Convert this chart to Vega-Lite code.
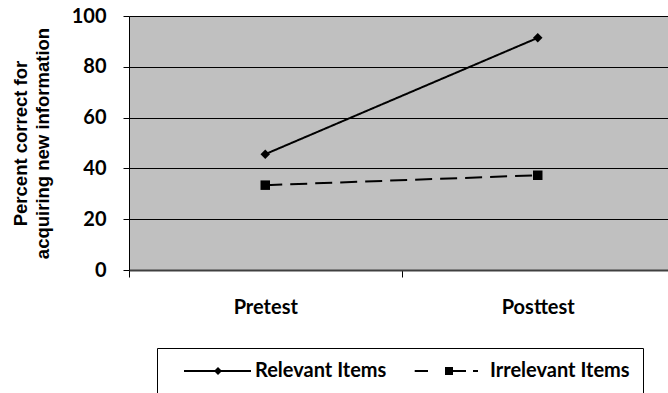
{
  "$schema": "https://vega.github.io/schema/vega-lite/v6.json",
  "autosize": {"type": "none"},
  "width": 545,
  "height": 254,
  "padding": {"left": 129, "top": 16, "right": 0, "bottom": 123},
  "background": "white",
  "data": {
    "values": [
      {"period": "Pretest", "series": "Relevant Items", "value": 45.6},
      {"period": "Posttest", "series": "Relevant Items", "value": 91.4},
      {"period": "Pretest", "series": "Irrelevant Items", "value": 33.4},
      {"period": "Posttest", "series": "Irrelevant Items", "value": 37.3}
    ]
  },
  "encoding": {
    "x": {
      "field": "period",
      "type": "nominal",
      "bandPosition": 0.5,
      "sort": ["Pretest", "Posttest"],
      "scale": {"type": "band", "domain": ["Pretest", "Posttest"], "paddingInner": 0, "paddingOuter": 0},
      "axis": {
        "title": null,
        "labelAngle": 0,
        "tickBand": "extent",
        "tickSize": 7,
        "tickColor": "black",
        "domainColor": "#404040",
        "domainWidth": 2,
        "grid": false,
        "labelFont": "Lato",
        "labelFontSize": 20,
        "labelFontWeight": "bold",
        "labelColor": "black",
        "labelPadding": 20
      }
    },
    "y": {
      "field": "value",
      "type": "quantitative",
      "scale": {"domain": [0, 100], "nice": false},
      "axis": {
        "title": ["Percent correct for", "acquiring new information"],
        "titleFont": "Liberation Sans",
        "titleFontSize": 18.5,
        "titleFontWeight": "bold",
        "titleColor": "black",
        "titleX": -99,
        "titleY": 127,
        "titleLineHeight": 22,
        "values": [0, 20, 40, 60, 80, 100],
        "grid": true,
        "gridColor": "black",
        "gridWidth": 1,
        "gridOpacity": 1,
        "domainColor": "black",
        "domainWidth": 1,
        "tickColor": "black",
        "tickSize": 6,
        "labelFont": "Lato",
        "labelFontSize": 20,
        "labelFontWeight": "bold",
        "labelColor": "black",
        "labelPadding": 17
      }
    }
  },
  "layer": [
    {
      "mark": {"type": "line", "color": "black", "strokeWidth": 2},
      "encoding": {
        "strokeDash": {
          "field": "series",
          "type": "nominal",
          "scale": {"domain": ["Relevant Items", "Irrelevant Items"], "range": [[1, 0], [17, 8]]},
          "legend": null
        }
      }
    },
    {
      "mark": {"type": "point", "filled": true, "color": "black", "opacity": 1, "size": 90},
      "encoding": {
        "shape": {
          "field": "series",
          "type": "nominal",
          "scale": {"domain": ["Relevant Items", "Irrelevant Items"], "range": ["diamond", "square"]},
          "legend": null
        }
      }
    },
    {
      "transform": [{"filter": "datum.value < 0"}],
      "mark": {"type": "point", "filled": true, "color": "black", "opacity": 1, "size": 400},
      "encoding": {
        "shape": {
          "field": "series",
          "type": "nominal",
          "scale": {
            "domain": ["Relevant Items", "Irrelevant Items"],
            "range": [
              "M-3.2,-0.1L3.5,-0.1L3.5,0.1L-3.2,0.1ZM-0.2,0L0.2,-0.4L0.6,0L0.2,0.4Z",
              "M-3.63,-0.1L-2.3,-0.1L-2.3,0.1L-3.63,0.1ZM-0.6,-0.4L0.2,-0.4L0.2,0.4L-0.6,0.4ZM0.2,-0.1L1.5,-0.1L1.5,0.1L0.2,0.1ZM2.2,-0.1L2.7,-0.1L2.7,0.1L2.2,0.1Z"
            ]
          },
          "legend": {
            "title": null,
            "orient": "none",
            "legendX": 28,
            "legendY": 332,
            "direction": "horizontal",
            "strokeColor": "black",
            "padding": 13,
            "columnPadding": 18,
            "symbolOffset": 36,
            "labelOffset": 29,
            "labelFont": "Lato",
            "labelFontSize": 20,
            "labelFontWeight": "bold",
            "labelColor": "black",
            "labelLimit": 300,
            "symbolSize": 400,
            "symbolOpacity": 1,
            "symbolFillColor": "black",
            "symbolStrokeWidth": 0
          }
        }
      }
    }
  ],
  "resolve": {
    "scale": {"shape": "independent"},
    "legend": {"shape": "independent", "strokeDash": "independent"}
  },
  "config": {
    "view": {"fill": "#c0c0c0", "stroke": null}
  }
}
